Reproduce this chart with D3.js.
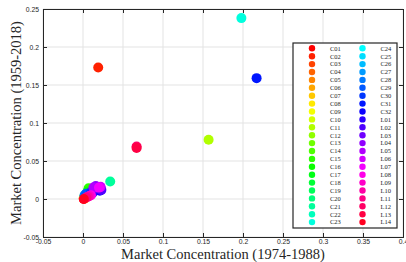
<!DOCTYPE html>
<html>
<head>
<meta charset="utf-8">
<script src="https://cdn.jsdelivr.net/npm/d3@7"></script>
<style>
  body { margin: 0; background: #fff; }
  svg { display: block; }
</style>
</head>
<body>
<div id="chart"></div>
<script>
var width = 406;
var height = 262;
var margin = {top: 9, right: 3, bottom: 25, left: 43};

// series names, in legend order
var names = ["C01","C02","C03","C04","C05","C06","C07","C08","C09","C10",
  "C11","C12","C13","C14","C15","C16","C17","C18","C19","C20",
  "C21","C22","C23","C24","C25","C26","C27","C28","C29","C30",
  "C31","C32","L01","L02","L03","L04","L05","L06","L07","L08",
  "L09","L10","L11","L12","L13","L14"];

// market concentration 1974-1988 (x)
var conc7488 = [0.001,0.019,0.002,0.003,0.001,0.004,0.002,0.003,0.001,0.005,
  0.157,0.006,0.004,0.007,0.007,0.006,0.005,0.003,0.004,0.002,
  0.034,0.003,0.198,0.002,0.003,0.004,0.003,0.002,0.004,0.010,
  0.217,0.021,0.012,0.023,0.015,0.016,0.013,0.022,0.020,0.010,
  0.008,0.006,0.004,0.067,0.067,0.001];

// market concentration 1959-2018 (y)
var conc5918 = [0.000,0.173,0.001,0.002,0.001,0.003,0.002,0.001,0.002,0.004,
  0.078,0.008,0.006,0.012,0.014,0.010,0.007,0.004,0.005,0.003,
  0.023,0.002,0.238,0.004,0.005,0.006,0.006,0.005,0.007,0.009,
  0.159,0.011,0.008,0.012,0.014,0.017,0.015,0.016,0.015,0.005,
  0.004,0.003,0.002,0.069,0.067,0.000];

var xTicks = [-0.05,0,0.05,0.1,0.15,0.2,0.25,0.3,0.35,0.4];
var yTicks = [-0.05,0,0.05,0.1,0.15,0.2,0.25];

// hsv colormap, one colour per series
var color = function(i) {
  return d3.hsl(360 * i / names.length, 1, 0.5).toString();
};

var svg = d3.select("#chart").append("svg")
  .attr("width", width)
  .attr("height", height);

var x = d3.scaleLinear().domain([-0.05, 0.4]).range([margin.left, width - margin.right]);
var y = d3.scaleLinear().domain([-0.05, 0.25]).range([height - margin.bottom, margin.top]);

// grid
svg.append("g").selectAll("line").data(xTicks).enter().append("line")
  .attr("x1", d => x(d)).attr("x2", d => x(d))
  .attr("y1", y(-0.05)).attr("y2", y(0.25))
  .attr("stroke", "#e3e3e3").attr("stroke-width", 1);
svg.append("g").selectAll("line").data(yTicks).enter().append("line")
  .attr("y1", d => y(d)).attr("y2", d => y(d))
  .attr("x1", x(-0.05)).attr("x2", x(0.4))
  .attr("stroke", "#e3e3e3").attr("stroke-width", 1);

// points
var idx = d3.range(names.length);
svg.append("g").selectAll("circle").data(idx).enter().append("circle")
  .attr("cx", i => x(conc7488[i]))
  .attr("cy", i => y(conc5918[i]))
  .attr("r", 5)
  .attr("fill", i => color(i));

// axes
var axFont = "Liberation Sans, Arial, sans-serif";
var fmt = d => String(+d.toFixed(2));
svg.append("g")
  .attr("transform", "translate(0," + y(-0.05) + ")")
  .call(d3.axisBottom(x).tickValues(xTicks).tickSize(-4).tickPadding(2).tickFormat(fmt));
svg.append("g")
  .attr("transform", "translate(" + x(-0.05) + ",0)")
  .call(d3.axisLeft(y).tickValues(yTicks).tickSize(-4).tickPadding(4).tickFormat(fmt));
// top / right ticks
svg.append("g")
  .attr("transform", "translate(0," + y(0.25) + ")")
  .call(d3.axisTop(x).tickValues(xTicks).tickSize(-4).tickFormat(""));
svg.append("g")
  .attr("transform", "translate(" + x(0.4) + ",0)")
  .call(d3.axisRight(y).tickValues(yTicks).tickSize(-4).tickFormat(""));

svg.selectAll(".domain").attr("stroke", "#262626").attr("stroke-width", 1);
svg.selectAll(".tick line").attr("stroke", "#262626");
svg.selectAll(".tick text").attr("font-family", axFont).attr("font-size", 6.8).attr("fill", "#262626");

// axis labels
svg.append("text")
  .attr("x", (x(-0.05) + x(0.4)) / 2)
  .attr("y", 259)
  .attr("text-anchor", "middle")
  .attr("font-family", "Liberation Serif, serif")
  .attr("font-size", 14.5)
  .attr("fill", "#262626")
  .text("Market Concentration (1974-1988)");
svg.append("text")
  .attr("transform", "translate(21," + ((y(-0.05) + y(0.25)) / 2) + ") rotate(-90)")
  .attr("text-anchor", "middle")
  .attr("font-family", "Liberation Serif, serif")
  .attr("font-size", 14.5)
  .attr("fill", "#262626")
  .text("Market Concentration (1959-2018)");

// legend
var lg = {x: 293, y: 43, w: 104, h: 185};
var legend = svg.append("g");
legend.append("rect")
  .attr("x", lg.x).attr("y", lg.y).attr("width", lg.w).attr("height", lg.h)
  .attr("fill", "#fff").attr("stroke", "#262626").attr("stroke-width", 1.2);
var rows = 23;
var rowH = 7.9;
var item = legend.selectAll("g").data(idx).enter().append("g")
  .attr("transform", i => "translate(" + (lg.x + 19 + Math.floor(i / rows) * 50.5) + "," + (lg.y + 5.3 + (i % rows) * rowH) + ")");
item.append("circle").attr("r", 3.2).attr("fill", i => color(i));
item.append("text")
  .attr("x", 18).attr("y", 2.3)
  .attr("font-family", "Liberation Serif, serif")
  .attr("font-size", 6.5)
  .attr("fill", "#262626")
  .text(i => names[i]);
</script>
</body>
</html>
